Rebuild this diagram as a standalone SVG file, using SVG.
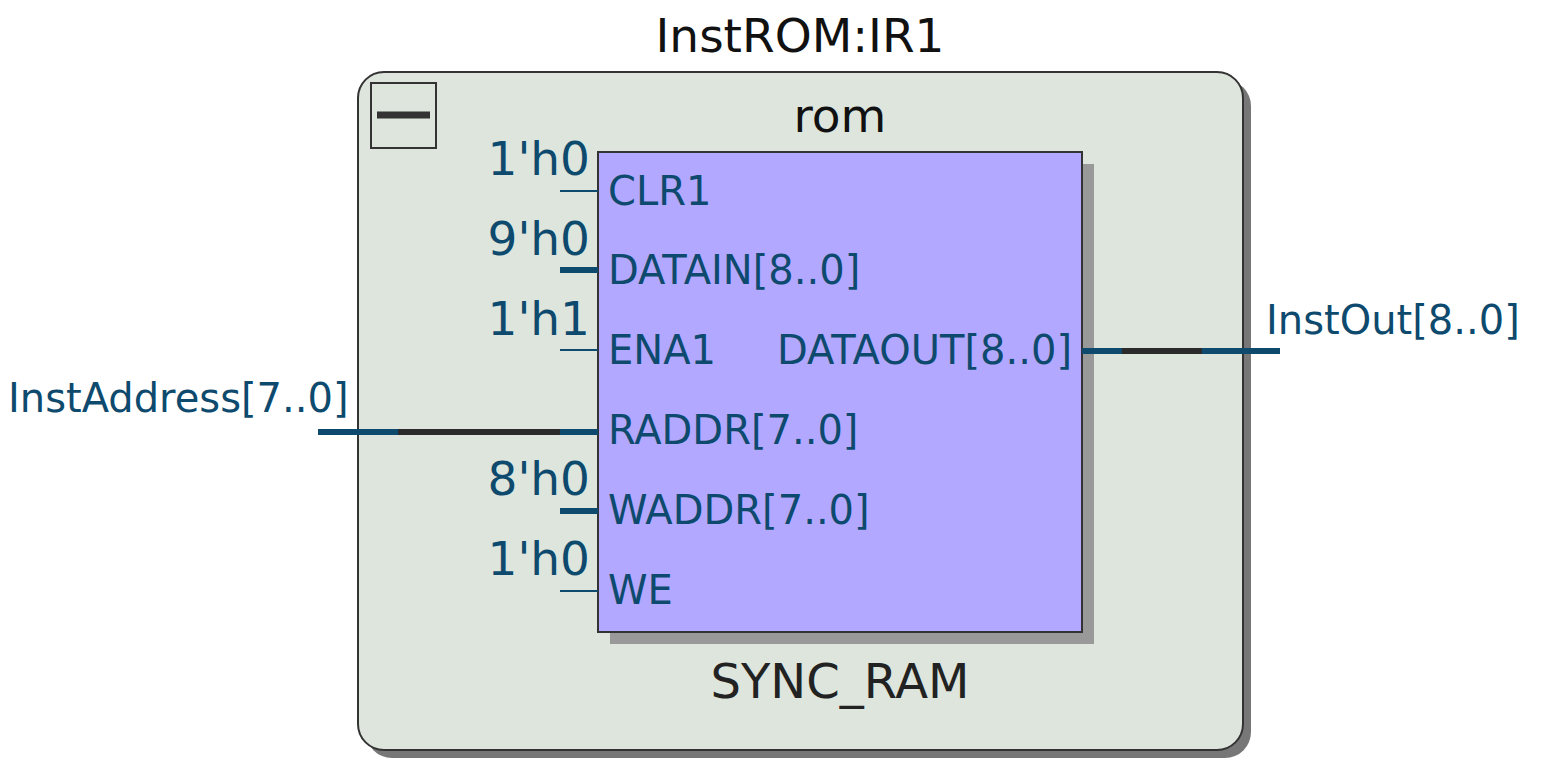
<svg xmlns="http://www.w3.org/2000/svg" width="1541" height="780" viewBox="0 0 1541 780">
<style>
.t{font-family:"DejaVu Sans",sans-serif;}
.p{font-family:"DejaVu Sans",sans-serif;font-size:40px;fill:#0d4a6e;}
.c{font-family:"DejaVu Sans",sans-serif;font-size:47px;fill:#0d4a6e;text-anchor:end;}
.w{stroke:#0d4a6e;fill:none;}
</style>
<rect width="1541" height="780" fill="#fff"/>
<g id="InstROM">
<rect x="366" y="80" width="885" height="678" rx="26" fill="#777"/>
<rect x="358" y="72" width="885" height="678" rx="26" fill="#dde5dc" stroke="#333" stroke-width="2"/>
<rect x="371" y="83" width="65" height="65" fill="none" stroke="#333" stroke-width="2"/>
<line x1="377" y1="115" x2="430" y2="115" stroke="#333" stroke-width="7"/>
<text class="t" x="800" y="52" font-size="47" text-anchor="middle" fill="#111">InstROM:IR1</text>
</g>
<g id="rom">
<rect x="610" y="164" width="484" height="480" fill="#999"/>
<rect x="598" y="152" width="484" height="480" fill="#b3a8ff" stroke="#333" stroke-width="2"/>
<text class="t" x="840" y="132" font-size="47" text-anchor="middle" fill="#111">rom</text>
<text class="t" x="840" y="698" font-size="48" text-anchor="middle" fill="#222">SYNC_RAM</text>
<text class="p" x="608" y="205">CLR1</text>
<text class="p" x="608" y="284">DATAIN[8..0]</text>
<text class="p" x="608" y="364">ENA1</text>
<text class="p" x="608" y="444">RADDR[7..0]</text>
<text class="p" x="608" y="524">WADDR[7..0]</text>
<text class="p" x="608" y="604">WE</text>
<text class="p" x="1072" y="364" text-anchor="end">DATAOUT[8..0]</text>
<text class="c" x="590" y="175">1'h0</text>
<text class="c" x="590" y="255">9'h0</text>
<text class="c" x="590" y="335">1'h1</text>
<text class="c" x="590" y="495">8'h0</text>
<text class="c" x="590" y="575">1'h0</text>
</g>
<g id="connectors">
<line class="w" x1="560" y1="191" x2="598" y2="191" stroke-width="2"/>
<line class="w" x1="560" y1="270" x2="598" y2="270" stroke-width="6"/>
<line class="w" x1="560" y1="350" x2="598" y2="350" stroke-width="2"/>
<line class="w" x1="560" y1="511" x2="598" y2="511" stroke-width="6"/>
<line class="w" x1="560" y1="591" x2="598" y2="591" stroke-width="2"/>
<line class="w" x1="318" y1="432" x2="598" y2="432" stroke-width="6"/>
<line x1="398" y1="432" x2="560" y2="432" stroke="#2b2b2b" stroke-width="6"/>
<line class="w" x1="1082" y1="351" x2="1280" y2="351" stroke-width="6"/>
<line x1="1122" y1="351" x2="1202" y2="351" stroke="#2b2b2b" stroke-width="6"/>
<text class="p" x="8" y="412">InstAddress[7..0]</text>
<text class="p" x="1266" y="334">InstOut[8..0]</text>
</g>
</svg>
